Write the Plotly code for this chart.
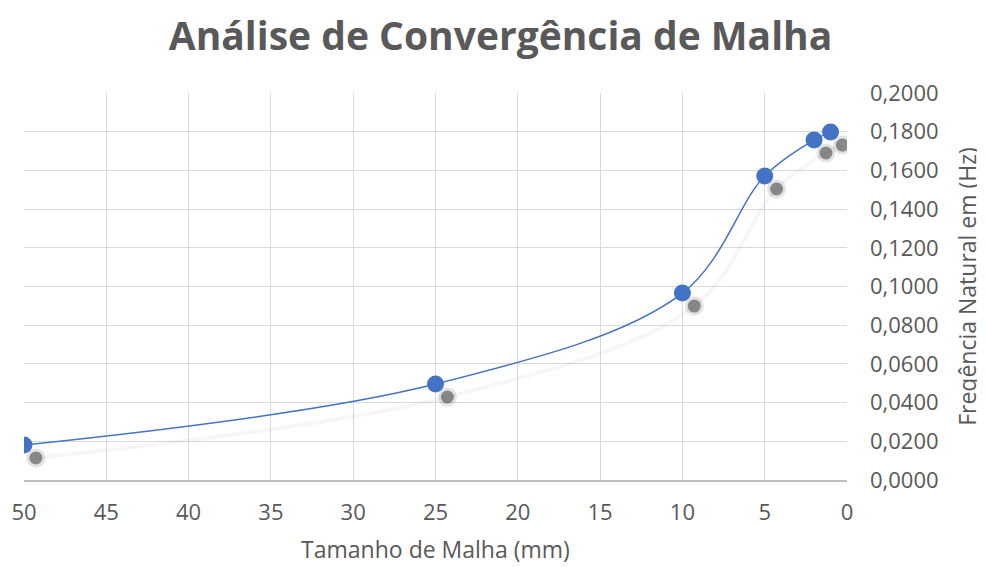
import plotly.graph_objects as go

mesh_size = [50, 25, 10, 5, 2, 1]
frequency = [0.0181, 0.0496, 0.0966, 0.1571, 0.1757, 0.1798]
x_ticks = [50, 45, 40, 35, 30, 25, 20, 15, 10, 5, 0]
y_ticks = [0, 0.02, 0.04, 0.06, 0.08, 0.10, 0.12, 0.14, 0.16, 0.18, 0.20]

title_text = "Análise de Convergência de Malha"
x_title = "Tamanho de Malha (mm)"
y_title = "Freqência Natural em (Hz)"

font_main = "Open Sans, DejaVu Sans, sans-serif"
grey_txt = "#595959"

fig = go.Figure()

# soft shadow (offset via overlaid axes)
fig.add_trace(go.Scatter(
    x=mesh_size, y=frequency, mode="lines+markers",
    line=dict(color="rgba(0,0,0,0.035)", width=4, shape="spline", smoothing=1.0),
    marker=dict(size=19, color="rgba(60,60,60,0.14)", line=dict(width=0)),
    xaxis="x2", yaxis="y2", hoverinfo="skip", showlegend=False,
))
fig.add_trace(go.Scatter(
    x=mesh_size, y=frequency, mode="markers",
    marker=dict(size=13, color="rgba(45,45,45,0.5)", line=dict(width=0)),
    xaxis="x2", yaxis="y2", hoverinfo="skip", showlegend=False,
))

fig.add_trace(go.Scatter(
    x=mesh_size, y=frequency, mode="lines+markers",
    line=dict(color="#4472C4", width=1.5, shape="spline", smoothing=1.0),
    marker=dict(size=17, color="#4472C4", line=dict(width=0)),
    showlegend=False,
))

dx = 0.72    # shadow shift right (x units)
dy = 0.0067  # shadow shift down (y units)

fig.update_layout(
    width=985, height=567,
    paper_bgcolor="white", plot_bgcolor="white",
    margin=dict(l=16, r=146, t=85, b=95),
    separators=", ",
    title=dict(text=title_text, x=0.5, xanchor="center", y=0.95, yanchor="middle",
               font=dict(family=font_main, size=39, color=grey_txt, weight="bold")),
    xaxis=dict(
        range=[50, 0], tickvals=x_ticks, showgrid=True, gridcolor="#d9d9d9", gridwidth=1,
        zeroline=False, showline=True, linecolor="#bfbfbf", linewidth=2,
        ticks="", ticklabelstandoff=12, automargin=False,
        tickfont=dict(family=font_main, size=22, color=grey_txt),
        title=dict(text=x_title, font=dict(family=font_main, size=23, color=grey_txt), standoff=16),
    ),
    yaxis=dict(
        range=[0, 0.2], tickvals=y_ticks, tickformat=".4f", side="right",
        showgrid=True, gridcolor="#d9d9d9", gridwidth=1, zeroline=False,
        showline=False, ticks="", ticklabelstandoff=22, automargin=False,
        tickfont=dict(family=font_main, size=22, color=grey_txt),
        title=dict(text=y_title, font=dict(family=font_main, size=23, color=grey_txt), standoff=22),
    ),
    xaxis2=dict(range=[50 + dx, dx], overlaying="x", visible=False),
    yaxis2=dict(range=[dy, 0.2 + dy], overlaying="y", visible=False),
)

fig.write_html("out.html")
